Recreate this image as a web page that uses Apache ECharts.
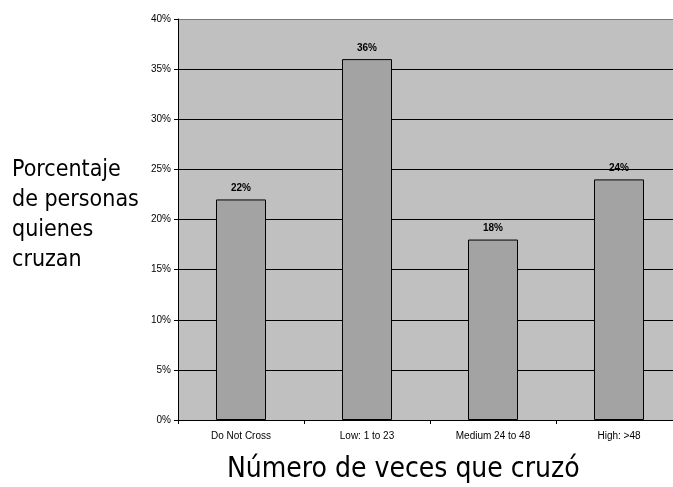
<!DOCTYPE html>
<html>
<head>
<meta charset="utf-8">
<script src="https://cdn.jsdelivr.net/npm/echarts@6/dist/echarts.min.js"></script>
<style>
html,body{margin:0;padding:0;background:#fff;}
#chart{width:673px;height:487px;}
</style>
</head>
<body>
<div id="chart"></div>
<script>
// datos del gráfico
let categorias = ['Do Not Cross', 'Low: 1 to 23', 'Medium 24 to 48', 'High: >48'];
let porcentajes = [22, 36, 18, 24];
let tituloY = ['Porcentaje', 'de personas', 'quienes', 'cruzan'];
let tituloX = 'Número de veces que cruzó';

let chart = echarts.init(document.getElementById('chart'));

let option = {
    animation: false,
    grid: {
        left: 178,
        top: 19,
        width: 504,
        bottom: 67,
        outerBoundsMode: 'none',
        show: true,
        backgroundColor: '#c0c0c0',
        borderWidth: 0
    },
    xAxis: {
        type: 'category',
        data: categorias,
        axisLine: {lineStyle: {color: '#000', width: 1}},
        axisTick: {show: true, length: 4, lineStyle: {color: '#000'}},
        axisLabel: {color: '#000', fontSize: 10, fontFamily: 'Liberation Sans, Arial', margin: 11}
    },
    yAxis: {
        type: 'value',
        min: 0,
        max: 40,
        interval: 5,
        axisLine: {show: true, lineStyle: {color: '#000', width: 1}},
        axisTick: {show: true, length: 4, lineStyle: {color: '#000'}},
        axisLabel: {color: '#000', fontSize: 10, fontFamily: 'Liberation Sans, Arial', margin: 7, formatter: '{value}%'},
        splitLine: {show: true, lineStyle: {color: ['#000', '#000', '#000', '#000', '#000', '#000', '#000', '#000', '#777'], width: 1}}
    },
    series: [{
        type: 'bar',
        data: porcentajes,
        barWidth: 50,
        itemStyle: {color: '#a3a3a3', borderColor: '#000', borderWidth: 1},
        label: {
            show: true,
            position: 'top',
            distance: 6,
            formatter: '{c}%',
            color: '#000',
            fontSize: 10,
            fontWeight: 'bold',
            fontFamily: 'Liberation Sans, Arial'
        }
    }],
    graphic: [{
        type: 'text',
        left: 12,
        top: 155,
        style: {
            text: tituloY.join('\n'),
            font: '23px "DejaVu Sans Condensed"',
            lineHeight: 30,
            fill: '#000'
        }
    }, {
        type: 'text',
        left: 227,
        top: 456,
        style: {
            text: tituloX,
            font: '28px "DejaVu Sans Condensed"',
            fill: '#000'
        }
    }]
};
chart.setOption(option);
</script>
</body>
</html>
